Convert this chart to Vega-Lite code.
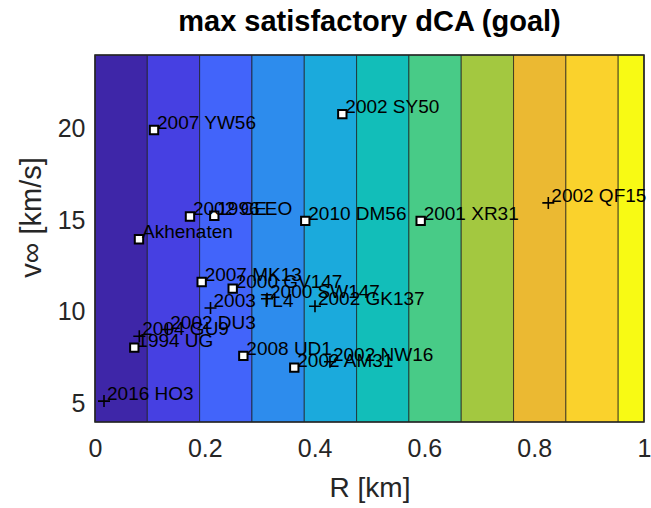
{
  "$schema": "https://vega.github.io/schema/vega-lite/v6.json",
  "width": 549,
  "height": 367,
  "autosize": {"type": "none"},
  "padding": {"left": 95, "top": 55, "right": 7, "bottom": 86},
  "background": "white",
  "config": {
    "view": {"stroke": null},
    "font": "Liberation Sans",
    "axis": {"labelFont": "Liberation Sans", "titleFont": "Liberation Sans", "labelColor": "#262626", "titleColor": "#262626", "grid": false, "ticks": false, "domain": false, "titleFontWeight": "normal"}
  },
  "title": {
    "text": "max satisfactory dCA (goal)",
    "fontSize": 29,
    "fontWeight": "bold",
    "font": "Liberation Sans",
    "color": "#000000",
    "anchor": "middle",
    "baseline": "alphabetic",
    "offset": -6
  },
  "datasets": {
    "bands": [
      {"x0": 0, "x1": 0.0953, "level": 1},
      {"x0": 0.0953, "x1": 0.1906, "level": 2},
      {"x0": 0.1906, "x1": 0.2859, "level": 3},
      {"x0": 0.2859, "x1": 0.3812, "level": 4},
      {"x0": 0.3812, "x1": 0.4765, "level": 5},
      {"x0": 0.4765, "x1": 0.5718, "level": 6},
      {"x0": 0.5718, "x1": 0.6671, "level": 7},
      {"x0": 0.6671, "x1": 0.7624, "level": 8},
      {"x0": 0.7624, "x1": 0.8577, "level": 9},
      {"x0": 0.8577, "x1": 0.953, "level": 10},
      {"x0": 0.953, "x1": 1, "level": 11}
    ],
    "pts": [
      {"name": "2016 HO3", "R": 0.0164, "v": 5.14, "m": "plus"},
      {"name": "1994 UG", "R": 0.0716, "v": 8.05, "m": "square"},
      {"name": "2004 GU9", "R": 0.0807, "v": 8.67, "m": "plus"},
      {"name": "2002 DU3", "R": 0.1317, "v": 9.04, "m": "plus"},
      {"name": "Akhenaten", "R": 0.0801, "v": 13.96, "m": "square"},
      {"name": "2007 YW56", "R": 0.1075, "v": 19.91, "m": "square"},
      {"name": "2002 CE", "R": 0.173, "v": 15.2, "m": "square"},
      {"name": "1996 EO", "R": 0.2173, "v": 15.24, "m": "square"},
      {"name": "2007 MK13", "R": 0.1943, "v": 11.63, "m": "square"},
      {"name": "2000 GV147", "R": 0.2508, "v": 11.27, "m": "square"},
      {"name": "2003 TL4", "R": 0.2104, "v": 10.21, "m": "plus"},
      {"name": "2000 SW147", "R": 0.3133, "v": 10.72, "m": "plus"},
      {"name": "2002 GK137", "R": 0.4007, "v": 10.31, "m": "plus"},
      {"name": "2008 UD1", "R": 0.2702, "v": 7.6, "m": "square"},
      {"name": "2002 AM31", "R": 0.363, "v": 6.96, "m": "square"},
      {"name": "2002 NW16", "R": 0.428, "v": 7.28, "m": "plus"},
      {"name": "2010 DM56", "R": 0.383, "v": 14.96, "m": "square"},
      {"name": "2002 SY50", "R": 0.4505, "v": 20.78, "m": "square"},
      {"name": "2001 XR31", "R": 0.5932, "v": 14.96, "m": "square"},
      {"name": "2002 QF15", "R": 0.8257, "v": 15.94, "m": "plus"}
    ]
  },
  "layer": [
    {
      "data": {"name": "bands"},
      "mark": {"type": "rect", "stroke": "#1a1a1a", "strokeWidth": 1, "strokeOpacity": 0.7},
      "encoding": {
        "x": {"field": "x0", "type": "quantitative", "scale": {"domain": [0, 1], "nice": false, "zero": false},
          "axis": {"title": "R [km]", "values": [0, 0.2, 0.4, 0.6, 0.8, 1], "format": "~g", "labelFontSize": 25, "titleFontSize": 28, "labelPadding": 14, "titlePadding": 13, "labelFlush": false, "labelOverlap": false}},
        "x2": {"field": "x1"},
        "y": {"datum": 4, "type": "quantitative", "scale": {"domain": [4, 24], "nice": false, "zero": false},
          "axis": {"title": "v∞  [km/s]", "values": [5, 10, 15, 20], "labelFontSize": 25, "titleFontSize": 29, "labelPadding": 10, "titlePadding": 11, "titleY": 162, "labelOverlap": false}},
        "y2": {"datum": 24},
        "color": {"field": "level", "type": "ordinal", "legend": null,
          "scale": {"domain": [1,2,3,4,5,6,7,8,9,10,11], "range": ["#3E26A8", "#4640E2", "#4264FA", "#2D8CED", "#1BAADC", "#12BEB9", "#48CB87", "#A3C840", "#EBB932", "#FAD22C", "#F8FA14"]}}
      }
    },
    {
      "data": {"values": [{}]},
      "mark": {"type": "rect", "fill": null, "filled": false, "stroke": "#262626", "strokeWidth": 1.6},
      "encoding": {
        "x": {"datum": 0, "type": "quantitative"},
        "x2": {"datum": 1},
        "y": {"datum": 4, "type": "quantitative"},
        "y2": {"datum": 24}
      }
    },
    {
      "data": {"name": "pts"},
      "transform": [{"filter": "datum.m === 'square'"}],
      "mark": {"type": "point", "shape": "square", "filled": true, "fill": "white", "stroke": "#000000", "strokeWidth": 2, "size": 70, "opacity": 1},
      "encoding": {
        "x": {"field": "R", "type": "quantitative"},
        "y": {"field": "v", "type": "quantitative"}
      }
    },
    {
      "data": {"name": "pts"},
      "transform": [{"filter": "datum.m === 'plus'"}],
      "mark": {"type": "point", "shape": "M-1,0L1,0M0,-1L0,1", "filled": false, "stroke": "#000000", "strokeWidth": 1.6, "size": 144, "opacity": 1},
      "encoding": {
        "x": {"field": "R", "type": "quantitative"},
        "y": {"field": "v", "type": "quantitative"}
      }
    },
    {
      "data": {"name": "pts"},
      "mark": {"type": "text", "align": "left", "baseline": "middle", "dx": 3, "dy": -7, "fontSize": 19, "font": "Liberation Sans", "color": "#000000"},
      "encoding": {
        "x": {"field": "R", "type": "quantitative"},
        "y": {"field": "v", "type": "quantitative"},
        "text": {"field": "name"}
      }
    }
  ]
}
